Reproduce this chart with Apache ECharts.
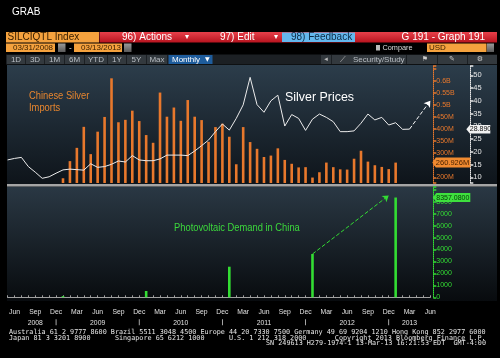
<!DOCTYPE html>
<html><head><meta charset="utf-8">
<script src="https://cdn.jsdelivr.net/npm/echarts@6/dist/echarts.min.js"></script>
<style>html,body{margin:0;padding:0;background:#000;}#c{width:500px;height:358px;}</style>
</head><body><div id="c"></div><script>
// ---------- DATA ----------
const months = [
 '2008-05','2008-06','2008-07','2008-08','2008-09','2008-10','2008-11','2008-12',
 '2009-01','2009-02','2009-03','2009-04','2009-05','2009-06','2009-07','2009-08','2009-09','2009-10','2009-11','2009-12',
 '2010-01','2010-02','2010-03','2010-04','2010-05','2010-06','2010-07','2010-08','2010-09','2010-10','2010-11','2010-12',
 '2011-01','2011-02','2011-03','2011-04','2011-05','2011-06','2011-07','2011-08','2011-09','2011-10','2011-11','2011-12',
 '2012-01','2012-02','2012-03','2012-04','2012-05','2012-06','2012-07','2012-08','2012-09','2012-10','2012-11','2012-12',
 '2013-01','2013-02','2013-03','2013-04','2013-05','2013-06'];
// Chinese silver imports (millions), monthly from Jan 2009
const importsStart = '2009-01';
const imports = [196,267,322,409,296,389,450,610,428,438,476,433,
                 375,343,551,451,489,434,520,451,437,347,408,422,
                 368,254,408,346,318,284,290,320,272,256,241,242,
                 199,221,261,242,233,232,277,310,265,250,243,234,
                 260.926];
// Silver price (USD), monthly from May 2008
const priceStart = '2008-05';
const prices = [16.8,17.4,17.8,14.2,12.0,9.6,10.2,11.6,
                12.9,13.2,13.0,12.8,15.3,13.9,14.2,15.1,16.4,16.0,18.5,16.8,
                16.5,16.5,17.2,18.7,18.7,18.7,18.5,20.3,22.4,24.6,27.9,30.9,
                28.5,33.1,38.4,49.2,38.5,35.5,40.0,42.2,30.1,34.6,33.1,28.4,
                32.8,34.8,33.5,31.8,27.9,27.9,28.2,31.2,34.8,32.5,33.5,30.5,
                31.4,28.8,28.89];
// Photovoltaic demand in China (MW), annual points
const pvMonths = ['2009-01','2010-01','2011-01','2012-01','2013-01'];
const pvValues = [100, 528, 2563, 3626, 8357.08];
// axis tick labels
const quarterLabels = {'03':'Mar','06':'Jun','09':'Sep','12':'Dec'};
const yearLabels = {'2008-09':'2008','2009-06':'2009','2010-06':'2010','2011-06':'2011','2012-06':'2012','2013-03':'2013'};
const priceArrow = [['2013-03', 28.89], ['2013-06', 40]];
const pvArrow = [['2012-01', 3626], ['2012-12', 8526]];

// ---------- BUILD ----------
function pad(start, vals){
  const s = months.indexOf(start);
  return months.map((m,i)=> (i>=s && i-s<vals.length) ? vals[i-s] : null);
}
const importsData = pad(importsStart, imports);
const priceData = pad(priceStart, prices);
const pvData = pvMonths.map((m,i)=>[m, pvValues[i]]);

const NARROW = "'Liberation Sans',Arial,sans-serif";
const SANS = "'DejaVu Sans',sans-serif";
const MONO = "'DejaVu Sans Mono','Liberation Mono',monospace";
const ORANGE = '#e8782c', GREEN = '#33dd33';

const GL = 7.56, GW = 422.74;
let gid = 0;
function T(x,y,text,o){ o=o||{}; return {type:'text', id:'g'+(gid++), x:x, y:y, z:o.z||50, scaleX:o.sx||1, style:{text:text, fill:o.color||'#fff', font:(o.font||('10px '+NARROW)), textAlign:o.align||'left', textVerticalAlign:'middle'}}; }
function R(x,y,w,h,fill,z){ return {type:'rect', id:'g'+(gid++), z:(z==null?40:z), shape:{x:x,y:y,width:w,height:h}, style:{fill:fill}}; }
function lg(c1,c2){ return {type:'linear',x:0,y:0,x2:0,y2:1,colorStops:[{offset:0,color:c1},{offset:1,color:c2}]}; }

const chrome = [];
// panels
chrome.push(R(7,65,490,119, lg('#2c3d4b','#0e141a'), -100));
chrome.push(R(7,186.5,490,114.5, lg('#2a3844','#080b0e'), -100));
chrome.push(R(7,184,490,2.5,'#a5a5a5', -90));
// header
chrome.push(T(12,12.5,'GRAB',{font:'10px '+NARROW}));
chrome.push(R(6,32,93,10.5,'#f5a23e'));
chrome.push(T(7.5,37.4,'SILCIQTL Index',{color:'#3a2000',font:'10px '+NARROW}));
chrome.push(R(99.5,32,397.5,10.5, lg('#e8404a','#b8141f')));
chrome.push(T(122,37.4,'96) Actions',{font:'10px '+NARROW}));
chrome.push(T(185,37.4,'▾',{font:'8px '+SANS}));
chrome.push(T(220,37.4,'97) Edit',{font:'10px '+NARROW}));
chrome.push(T(274,37.4,'▾',{font:'8px '+SANS}));
chrome.push(R(282,32.5,73,9.5,'#64b8ee'));
chrome.push(T(291,37.4,'98) Feedback',{color:'#0d2a44',font:'10px '+NARROW}));
chrome.push(T(485,37.4,'G 191 - Graph 191',{align:'right',font:'10px '+NARROW}));
// row 2
chrome.push(R(6,43.5,49,8.5,'#f5a23e'));
chrome.push(T(13,47.8,'03/31/2008',{color:'#3a2000',font:'8px '+NARROW}));
chrome.push(R(58,43.5,7.5,8.5,lg('#9a9a9a','#5a5a5a')));
chrome.push(T(69,47.8,'-',{font:'8px '+NARROW}));
chrome.push(R(74,43.5,48,8.5,'#f5a23e'));
chrome.push(T(81,47.8,'03/13/2013',{color:'#3a2000',font:'8px '+NARROW}));
chrome.push(R(124,43.5,7.5,8.5,lg('#9a9a9a','#5a5a5a')));
chrome.push(R(376,45,4,5.5,'#bbbbbb'));
chrome.push(T(382.5,47.8,'Compare',{color:'#dddddd',font:'7.3px '+NARROW}));
chrome.push(R(427,43.5,59.5,8.5,'#f5a23e'));
chrome.push(T(429,47.8,'USD',{color:'#3a2000',font:'8px '+NARROW}));
chrome.push(R(487,43.5,7,8.5,lg('#9a9a9a','#5a5a5a')));
// row 3
chrome.push(R(6,54.5,491,10,'#1c2024'));
const btns = [['1D',7,25],['3D',26,44],['1M',45,64],['6M',65,84],['YTD',85,107],['1Y',108,126],['5Y',127,146],['Max',147,167]];
btns.forEach(b=>{ chrome.push(R(b[1],55,b[2]-b[1],9,'#33393e')); chrome.push(T((b[1]+b[2])/2,59.6,b[0],{align:'center',color:'#b9bec3',font:'8px '+NARROW})); });
chrome.push(R(168.5,55,44,9,'#1e5c9c'));
chrome.push(T(172,59.6,'Monthly',{color:'#ffffff',font:'8px '+NARROW}));
chrome.push(T(205,59.6,'▼',{color:'#ffffff',font:'6px '+SANS}));
[[321,331],[332,406],[407,437],[438,467],[468,497]].forEach(c=>chrome.push(R(c[0],55,c[1]-c[0],9,'#33393e')));
chrome.push(T(326,59.6,'◂',{align:'center',color:'#bbbbbb',font:'7px '+SANS}));
chrome.push(T(340,59.6,'⟋',{color:'#bbbbbb',font:'8px '+SANS}));
chrome.push(T(353,59.6,'Security/Study',{color:'#b9bec3',font:'8px '+NARROW}));
chrome.push(T(425,59.6,'⚑',{align:'center',color:'#cccccc',font:'7px '+SANS}));
chrome.push(T(452,59.6,'✎',{align:'center',color:'#cccccc',font:'7px '+SANS}));
chrome.push(T(480,59.6,'⚙',{align:'center',color:'#cccccc',font:'7px '+SANS}));
// annotations
chrome.push(T(29,96,'Chinese Silver',{color:'#e8862e',font:'10.5px '+NARROW, sx:0.89}));
chrome.push(T(29,108.5,'Imports',{color:'#e8862e',font:'10.5px '+NARROW, sx:0.89}));
chrome.push(T(285,97.5,'Silver Prices',{color:'#ffffff',font:'13.5px '+NARROW, sx:0.92}));
chrome.push(T(174,228,'Photovoltaic Demand in China',{color:'#3cd83c',font:'11px '+NARROW, sx:0.85}));
// footer
chrome.push(T(9,332.2,'Australia 61 2 9777 8600 Brazil 5511 3048 4500 Europe 44 20 7330 7500 Germany 49 69 9204 1210 Hong Kong 852 2977 6000',{color:'#e6e6e6',font:'6.77px '+MONO}));
chrome.push(T(9,337.8,'Japan 81 3 3201 8900      Singapore 65 6212 1000      U.S. 1 212 318 2000       Copyright 2013 Bloomberg Finance L.P.',{color:'#e6e6e6',font:'6.77px '+MONO}));
chrome.push(T(486,343.6,'SN 249613 H279-1974-1 13-Mar-13 16:21:53 EDT  GMT-4:00',{align:'right',color:'#e6e6e6',font:'6.77px '+MONO}));

const chart = echarts.init(document.getElementById('c'), null, {renderer:'canvas'});
const option = {
  backgroundColor:'#000',
  animation:false,
  graphic:{elements:chrome},
  grid:[
    {left:GL, top:66, width:GW, height:117, containLabel:false},
    {left:GL, top:187, width:GW, height:110.3, containLabel:false}
  ],
  xAxis:[
    {type:'category', gridIndex:0, data:months, boundaryGap:false, axisLine:{show:false}, axisTick:{show:false}, axisLabel:{show:false}, splitLine:{show:false}},
    {type:'category', gridIndex:1, data:months, boundaryGap:false, offset:7,
     axisLine:{show:true, lineStyle:{color:'#a0a0a0', width:1}},
     axisTick:{show:true, inside:true, length:2, interval:0, lineStyle:{color:'#a0a0a0'}},
     axisLabel:{show:true, interval:(i,v)=>!!quarterLabels[v.slice(5)], formatter:v=>quarterLabels[v.slice(5)]||'', color:'#e0e0e0', fontSize:6.8, fontFamily:NARROW, margin:4},
     splitLine:{show:false}},
    {type:'category', gridIndex:1, data:months, boundaryGap:false, offset:7, position:'bottom',
     axisLine:{show:false}, axisTick:{show:false},
     axisLabel:{show:true, interval:(i,v)=>!!yearLabels[v]||v.slice(5)==='12',
       formatter:v=> yearLabels[v] ? '{y|'+yearLabels[v]+'}' : '{d|}',
       rich:{y:{color:'#e0e0e0', fontSize:6.8, fontFamily:NARROW}, d:{width:0.8, height:6, backgroundColor:'#d0d0d0'}},
       margin:15},
     splitLine:{show:false}}
  ],
  yAxis:[
    {type:'value', gridIndex:0, position:'right', offset:3, min:176.4, max:661, minInterval:50, maxInterval:50,
     axisLine:{show:true, lineStyle:{color:ORANGE, width:1, type:'dotted'}},
     axisTick:{show:true, length:3, lineStyle:{color:ORANGE, width:1.5}},
     axisLabel:{color:ORANGE, fontSize:7, fontFamily:NARROW, margin:3,
       formatter:v=>{ if (Math.abs(v%50)>1e-6 || v>=650) return ''; return v>=500 ? (v/1000)+'B' : v+'M'; }},
     splitLine:{show:false}},
    {type:'value', gridIndex:0, position:'right', offset:40, min:7.76, max:53.65, minInterval:5, maxInterval:5,
     axisLine:{show:true, lineStyle:{color:'#e8e8e8', width:1, type:'dotted'}},
     axisTick:{show:true, length:3, lineStyle:{color:'#e8e8e8', width:1.5}},
     axisLabel:{color:'#e8e8e8', fontSize:7.5, fontFamily:NARROW, margin:3,
       formatter:v=> (Math.abs(v%5)>1e-6 || v>50) ? '' : String(v)},
     splitLine:{show:false}},
    {type:'value', gridIndex:1, position:'right', offset:3, min:0, max:9238, minInterval:1000, maxInterval:1000,
     axisLine:{show:true, lineStyle:{color:GREEN, width:1, type:'dotted'}},
     axisTick:{show:true, length:3, lineStyle:{color:GREEN, width:1.5}},
     axisLabel:{color:GREEN, fontSize:7, fontFamily:NARROW, margin:3,
       formatter:v=> (Math.abs(v%1000)>1e-6 || v>8000) ? '' : String(v)},
     splitLine:{show:false}}
  ],
  series:[
    {type:'bar', name:'imports', xAxisIndex:0, yAxisIndex:0, data:importsData, barWidth:2.6,
     itemStyle:{color:ORANGE}, silent:true},
    {type:'line', name:'price', xAxisIndex:0, yAxisIndex:1, data:priceData, symbol:'none', connectNulls:false,
     lineStyle:{color:'#ececec', width:1}, silent:true, z:5,
     markLine:{silent:true, symbol:['none','arrow'], symbolSize:6, label:{show:false},
       lineStyle:{color:'#ffffff', type:'dashed', width:1},
       data:[[{coord:priceArrow[0]},{coord:priceArrow[1]}]]}},
    {type:'bar', name:'pv', xAxisIndex:1, yAxisIndex:2, data:pvData, barWidth:2.6,
     itemStyle:{color:GREEN}, silent:true,
     markLine:{silent:true, symbol:['none','arrow'], symbolSize:6, label:{show:false},
       lineStyle:{color:GREEN, type:'dashed', width:1},
       data:[[{coord:pvArrow[0]},{coord:pvArrow[1]}]]}}
  ]
};
chart.setOption(option);

// value tags on the right axes, positioned through the axis scales
const tags = [];
function tag(x0,x1,c,h,fill,text,color,fs){
  tags.push({type:'polygon', id:'t'+(gid++), z:80, shape:{points:[[x0,c],[x0+3.5,c-h/2],[x1,c-h/2],[x1,c+h/2],[x0+3.5,c+h/2]]}, style:{fill:fill}});
  tags.push({type:'text', id:'t'+(gid++), z:81, x:x0+3.5, y:c+0.3, style:{text:text, fill:color, font:fs+'px '+NARROW, textVerticalAlign:'middle'}});
}
const gr = GL+GW;
const cPrice = chart.convertToPixel({yAxisIndex:1}, prices[prices.length-1]);
const cImp = chart.convertToPixel({yAxisIndex:0}, imports[imports.length-1]);
const cPv = chart.convertToPixel({yAxisIndex:2}, pvValues[pvValues.length-1]);
tag(gr+36, gr+60, cPrice, 8.5, '#f2f2f2', '28.890', '#111', 7);
tag(gr+2, gr+40, cImp, 10, '#f08a30', '260.926M', '#4a2200', 7.5);
tag(gr+2.5, gr+40, cPv, 9, '#3ee03e', '8357.0800', '#063806', 7);
chart.setOption({graphic:{elements:tags}});
</script></body></html>
